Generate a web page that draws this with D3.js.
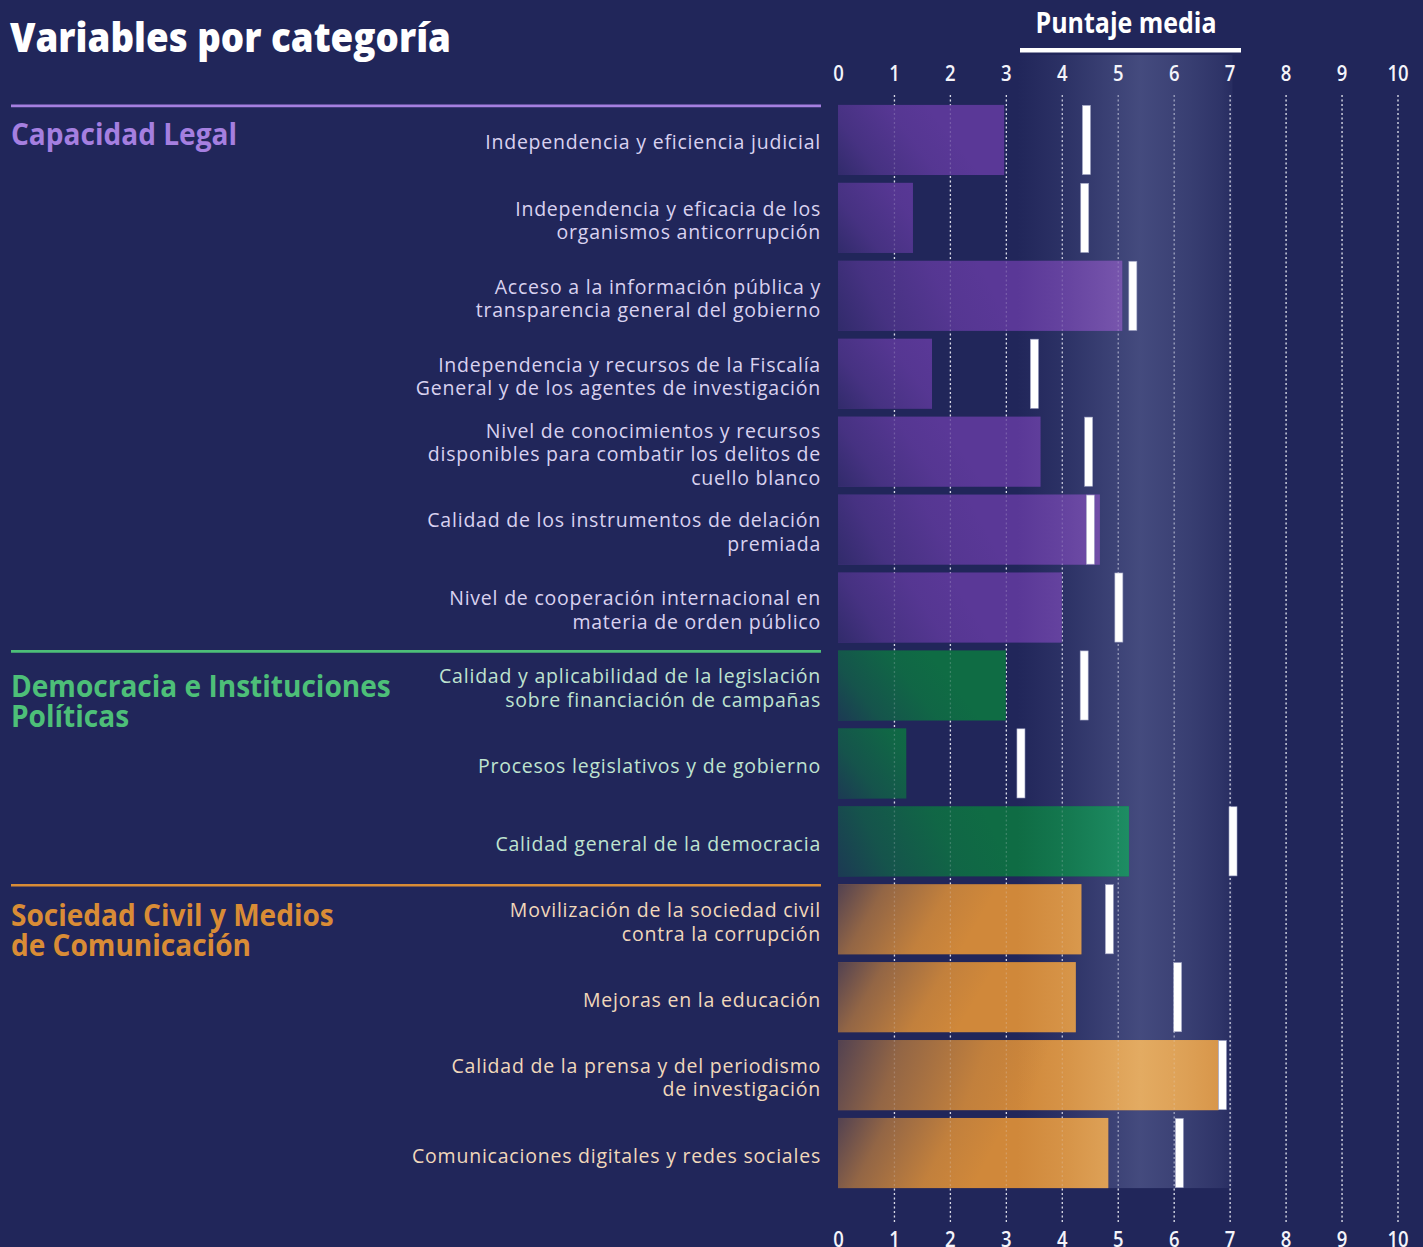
<!DOCTYPE html>
<html>
<head>
<meta charset="utf-8">
<script src="https://cdn.jsdelivr.net/npm/d3@7"></script>
<style>
  html, body { margin: 0; padding: 0; background: #21265a; }
  svg { display: block; }
  text { font-family: "Open Sans", "Noto Sans", sans-serif; }
</style>
</head>
<body>
<svg id="chart"></svg>
<script>
// ---- data ----
const categories = [
  ["Capacidad Legal"],
  ["Democracia e Instituciones", "Políticas"],
  ["Sociedad Civil y Medios", "de Comunicación"]
];
const variables = [
  ["Independencia y eficiencia judicial"],
  ["Independencia y eficacia de los", "organismos anticorrupción"],
  ["Acceso a la información pública y", "transparencia general del gobierno"],
  ["Independencia y recursos de la Fiscalía", "General y de los agentes de investigación"],
  ["Nivel de conocimientos y recursos", "disponibles para combatir los delitos de", "cuello blanco"],
  ["Calidad de los instrumentos de delación", "premiada"],
  ["Nivel de cooperación internacional en", "materia de orden público"],
  ["Calidad y aplicabilidad de la legislación", "sobre financiación de campañas"],
  ["Procesos legislativos y de gobierno"],
  ["Calidad general de la democracia"],
  ["Movilización de la sociedad civil", "contra la corrupción"],
  ["Mejoras en la educación"],
  ["Calidad de la prensa y del periodismo", "de investigación"],
  ["Comunicaciones digitales y redes sociales"]
];
const variableCategory = [0, 0, 0, 0, 0, 0, 0, 1, 1, 1, 2, 2, 2, 2];
const scores = [2.97, 1.34, 5.08, 1.68, 3.62, 4.68, 4.00, 3.00, 1.22, 5.20, 4.35, 4.25, 6.80, 4.83];
const means  = [4.44, 4.41, 5.27, 3.51, 4.48, 4.51, 5.02, 4.40, 3.27, 7.06, 4.85, 6.07, 6.87, 6.10];
const tickValues = [0, 1, 2, 3, 4, 5, 6, 7, 8, 9, 10];

// ---- styles ----
const bg = "#21265a";
const catColor = ["#a57fe0", "#4dbf78", "#d98c36"];
const barColor = ["#5a3897", "#0f6c44", "#d0883a"];
const barLight = ["#7d5bb1", "#1f9167", "#e3ab62"];
const labelColor = ["#d9d2f0", "#bfe3d0", "#f1d8bb"];

const W = 1423, H = 1247;
const svg = d3.select("#chart").attr("width", W).attr("height", H);
svg.append("rect").attr("width", W).attr("height", H).attr("fill", bg);

const x = d3.scaleLinear().domain([0, 10]).range([838, 1397.5]);
const y = d3.scaleBand()
  .domain(d3.range(variables.length))
  .range([101, 1192])
  .paddingInner(0.1)
  .paddingOuter(0.05);

const defs = svg.append("defs");

// profile of the light band behind the bars (value, opacity)
const bandLo = 3.2, bandHi = 7.05;
const bandStops = [[3.2, 0], [4.0, 0.3], [4.7, 0.65], [5.4, 1], [6.2, 0.7], [6.85, 0.38], [7.05, 0.18]];
function bandGradient(id, color, maxOpacity) {
  const g = defs.append("linearGradient").attr("id", id)
    .attr("gradientUnits", "userSpaceOnUse")
    .attr("x1", x(bandLo)).attr("y1", 0).attr("x2", x(bandHi)).attr("y2", 0);
  bandStops.forEach(([v, o]) => {
    g.append("stop").attr("offset", (v - bandLo) / (bandHi - bandLo))
      .attr("stop-color", color).attr("stop-opacity", o * maxOpacity);
  });
}
bandGradient("band", "#50578a", 0.75);
barLight.forEach((c, ci) => bandGradient("hl" + ci, c, 1));

// left darkening of every bar (its own diagonal gradient)
scores.forEach((s, i) => {
  const w = x(s) - x(0);
  const top = y(i), bot = y(i) + y.bandwidth();
  const orange = variableCategory[i] === 2;
  const g = defs.append("linearGradient").attr("id", "shade" + i)
    .attr("gradientUnits", "userSpaceOnUse")
    .attr("x1", x(0)).attr("y1", orange ? top : bot)
    .attr("x2", x(0) + Math.max(90, w * 0.5)).attr("y2", orange ? bot : top);
  g.append("stop").attr("offset", 0).attr("stop-color", bg).attr("stop-opacity", 0.72);
  g.append("stop").attr("offset", 0.3).attr("stop-color", bg).attr("stop-opacity", 0.35);
  g.append("stop").attr("offset", 0.7).attr("stop-color", bg).attr("stop-opacity", 0.08);
  g.append("stop").attr("offset", 1).attr("stop-color", bg).attr("stop-opacity", 0);
});

// ---- gridlines ----
const gridAxis = d3.axisBottom(x).tickValues(tickValues.slice(1)).tickSize(1222 - 95).tickFormat("");
function drawGrid(opacity) {
  svg.append("g")
    .attr("transform", "translate(0,95)")
    .call(gridAxis)
    .call(g => g.select(".domain").remove())
    .call(g => g.selectAll(".tick line")
      .attr("stroke", "#e9eaf3")
      .attr("stroke-width", 1.3)
      .attr("stroke-dasharray", "2,2.5")
      .attr("opacity", opacity));
}
drawGrid(0.9);

// ---- band ----
svg.append("rect")
  .attr("x", x(bandLo))
  .attr("y", 55)
  .attr("width", x(bandHi) - x(bandLo))
  .attr("height", y(variables.length - 1) + y.bandwidth() - 55)
  .attr("fill", "url(#band)");

// ---- bars ----
const rows = svg.append("g").selectAll("g")
  .data(scores)
  .join("g");

function barRect(sel) {
  return sel.append("rect")
    .attr("x", x(0))
    .attr("y", (d, i) => y(i))
    .attr("width", d => x(d) - x(0))
    .attr("height", y.bandwidth());
}
barRect(rows).attr("fill", (d, i) => barColor[variableCategory[i]]);
barRect(rows).attr("fill", (d, i) => "url(#hl" + variableCategory[i] + ")");
barRect(rows).attr("fill", (d, i) => "url(#shade" + i + ")");

drawGrid(0.2);

// ---- mean markers ----
svg.append("g").selectAll("rect")
  .data(means)
  .join("rect")
  .attr("x", d => x(d) - 4)
  .attr("y", (d, i) => y(i) + 0.5)
  .attr("width", 8)
  .attr("height", y.bandwidth() - 1)
  .attr("fill", "#ffffff")
  .attr("stroke", "#9fa3c4")
  .attr("stroke-width", 0.6);

// ---- axes ----
function styleTicks(g) {
  g.select(".domain").remove();
  g.selectAll(".tick text")
    .attr("fill", "#f4f4fa")
    .attr("transform", "scale(0.88,1)")
    .attr("x", function () { return 0; })
    .style("font-size", "21px")
    .style("font-weight", 600);
}
svg.append("g")
  .attr("transform", "translate(0,81)")
  .call(d3.axisTop(x).tickValues(tickValues).tickSize(0).tickPadding(0))
  .call(styleTicks);
svg.append("g")
  .attr("transform", "translate(0,1232)")
  .call(d3.axisBottom(x).tickValues(tickValues).tickSize(0).tickPadding(0))
  .call(styleTicks);

// ---- header ----
function squeeze(sel, ratio) {
  sel.each(function () {
    const w = this.getComputedTextLength();
    d3.select(this).attr("textLength", w * ratio).attr("lengthAdjust", "spacingAndGlyphs");
  });
}
const title = svg.append("text")
  .attr("x", 10).attr("y", 52)
  .attr("fill", "#ffffff")
  .style("font-size", "41px").style("font-weight", 800)
  .text("Variables por categoría");
squeeze(title, 441 / title.node().getComputedTextLength());

const ptitle = svg.append("text")
  .attr("x", 1126).attr("y", 33)
  .attr("text-anchor", "middle")
  .attr("fill", "#ffffff")
  .style("font-size", "28px").style("font-weight", 700)
  .text("Puntaje media");
squeeze(ptitle, 181 / ptitle.node().getComputedTextLength());

svg.append("rect")
  .attr("x", 1020).attr("y", 48)
  .attr("width", 221).attr("height", 4.5)
  .attr("fill", "#ffffff");

// ---- category separators and titles ----
const firstIndex = categories.map((c, ci) => variableCategory.indexOf(ci));
const catDy = [40, 47, 42];
let catRatio = null;
categories.forEach((lines, ci) => {
  const top = y(firstIndex[ci]);
  svg.append("line")
    .attr("x1", 11).attr("x2", 821)
    .attr("y1", top + 1).attr("y2", top + 1)
    .attr("stroke", catColor[ci])
    .attr("stroke-width", 2.6);
  lines.forEach((line, li) => {
    const t = svg.append("text")
      .attr("x", 11).attr("y", top + catDy[ci] + li * 29.5)
      .attr("fill", catColor[ci])
      .style("font-size", "31px").style("font-weight", 700)
      .text(line);
    if (catRatio === null) catRatio = 226 / t.node().getComputedTextLength();
    squeeze(t, catRatio);
  });
});

// ---- variable labels ----
const fontSize = 19.5, lineH = 23.5;
const probe = svg.append("text").style("font-size", fontSize + "px").text(variables[13][0]);
const letterSpacing = (409 - probe.node().getComputedTextLength()) / variables[13][0].length;
probe.remove();

const labels = svg.append("g").selectAll("text")
  .data(variables)
  .join("text")
  .attr("text-anchor", "end")
  .attr("fill", (d, i) => labelColor[variableCategory[i]])
  .style("font-size", fontSize + "px")
  .style("letter-spacing", letterSpacing + "px");

labels.each(function (lines, i) {
  const cy = y(i) + y.bandwidth() / 2;
  const first = cy + 9.5 - (lines.length - 1) * lineH / 2;
  d3.select(this).selectAll("tspan")
    .data(lines)
    .join("tspan")
    .attr("x", 821)
    .attr("y", (l, li) => first + li * lineH)
    .text(l => l);
});
</script>
</body>
</html>
